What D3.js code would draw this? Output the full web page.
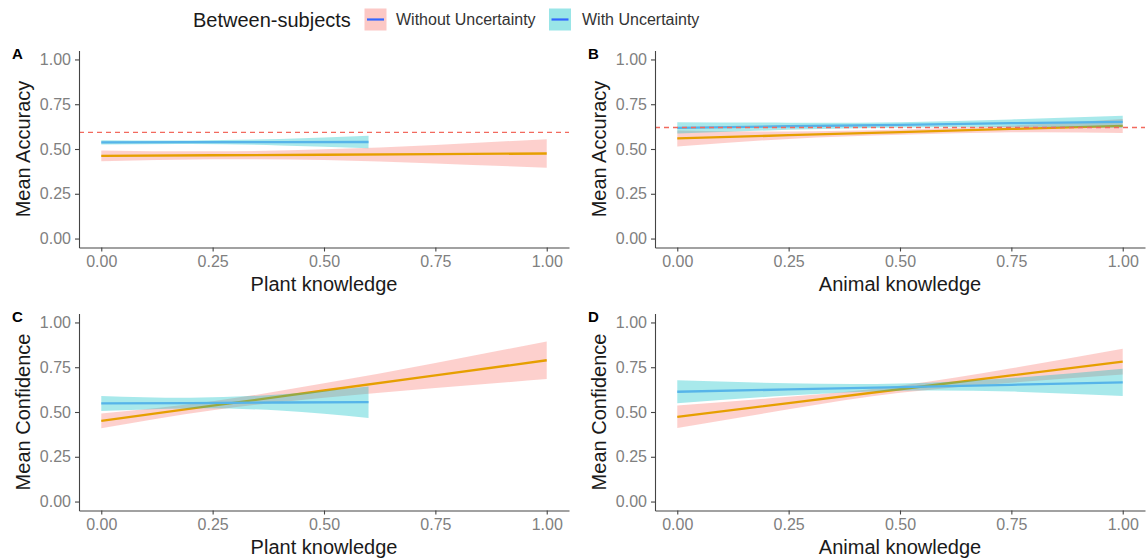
<!DOCTYPE html>
<html>
<head>
<meta charset="utf-8">
<script src="https://cdn.jsdelivr.net/npm/d3@7"></script>
<style>
body{margin:0;background:#fff}
text{font-family:"Liberation Sans",Arial,sans-serif}
</style>
</head>
<body>
<svg id="chart" width="1148" height="558"></svg>
<script>
// legend / groups
var groupNames = ["Without Uncertainty", "With Uncertainty"];
var lineCols = ["#E69F00", "#56B4E9"];
var fillCols = ["#F8766D", "#00BFC4"];
var tickVals = [0, 0.25, 0.5, 0.75, 1];

// x positions of the fitted values
var xPlantWithout = [0, 0.25, 0.5, 0.75, 1];
var xPlantWith = [0, 0.2, 0.4, 0.6];
var xAnimal = [0, 0.25, 0.5, 0.75, 1];

// A: accuracy ~ plant knowledge
var accPlantWithoutMean = [0.462, 0.465, 0.468, 0.471, 0.475];
var accPlantWithoutLo   = [0.432, 0.443, 0.438, 0.419, 0.395];
var accPlantWithoutHi   = [0.492, 0.487, 0.498, 0.523, 0.555];
var accPlantWithMean = [0.537, 0.538, 0.538, 0.539];
var accPlantWithLo   = [0.525, 0.528, 0.520, 0.504];
var accPlantWithHi   = [0.549, 0.548, 0.556, 0.574];

// B: accuracy ~ animal knowledge
var accAnimalWithoutMean = [0.559, 0.577, 0.594, 0.612, 0.629];
var accAnimalWithoutLo   = [0.514, 0.556, 0.579, 0.593, 0.590];
var accAnimalWithoutHi   = [0.604, 0.598, 0.609, 0.631, 0.668];
var accAnimalWithMean = [0.618, 0.627, 0.635, 0.644, 0.652];
var accAnimalWithLo   = [0.586, 0.607, 0.620, 0.623, 0.618];
var accAnimalWithHi   = [0.650, 0.647, 0.650, 0.665, 0.686];

// C: confidence ~ plant knowledge
var confPlantWithoutMean = [0.450, 0.535, 0.620, 0.704, 0.789];
var confPlantWithoutLo   = [0.409, 0.510, 0.580, 0.634, 0.684];
var confPlantWithoutHi   = [0.491, 0.560, 0.660, 0.774, 0.894];
var confPlantWithMean = [0.548, 0.550, 0.553, 0.555];
var confPlantWithLo   = [0.506, 0.520, 0.508, 0.467];
var confPlantWithHi   = [0.590, 0.580, 0.598, 0.643];

// D: confidence ~ animal knowledge
var confAnimalWithoutMean = [0.473, 0.550, 0.627, 0.704, 0.781];
var confAnimalWithoutLo   = [0.410, 0.515, 0.607, 0.664, 0.709];
var confAnimalWithoutHi   = [0.536, 0.585, 0.647, 0.744, 0.853];
var confAnimalWithMean = [0.613, 0.626, 0.639, 0.652, 0.665];
var confAnimalWithLo   = [0.549, 0.592, 0.619, 0.614, 0.590];
var confAnimalWithHi   = [0.677, 0.660, 0.659, 0.690, 0.742];

// reference (dashed) lines for accuracy panels
var chanceAcc = [0.593, 0.62];

var panels = [
  {id:"A", col:0, row:0, ylab:"Mean Accuracy", xlab:"Plant knowledge", ref:chanceAcc[0], groups:[
    {x:xPlantWithout, m:accPlantWithoutMean, lo:accPlantWithoutLo, hi:accPlantWithoutHi},
    {x:xPlantWith, m:accPlantWithMean, lo:accPlantWithLo, hi:accPlantWithHi}]},
  {id:"B", col:1, row:0, ylab:"Mean Accuracy", xlab:"Animal knowledge", ref:chanceAcc[1], groups:[
    {x:xAnimal, m:accAnimalWithoutMean, lo:accAnimalWithoutLo, hi:accAnimalWithoutHi},
    {x:xAnimal, m:accAnimalWithMean, lo:accAnimalWithLo, hi:accAnimalWithHi}]},
  {id:"C", col:0, row:1, ylab:"Mean Confidence", xlab:"Plant knowledge", ref:null, groups:[
    {x:xPlantWithout, m:confPlantWithoutMean, lo:confPlantWithoutLo, hi:confPlantWithoutHi},
    {x:xPlantWith, m:confPlantWithMean, lo:confPlantWithLo, hi:confPlantWithHi}]},
  {id:"D", col:1, row:1, ylab:"Mean Confidence", xlab:"Animal knowledge", ref:null, groups:[
    {x:xAnimal, m:confAnimalWithoutMean, lo:confAnimalWithoutLo, hi:confAnimalWithoutHi},
    {x:xAnimal, m:confAnimalWithMean, lo:confAnimalWithLo, hi:confAnimalWithHi}]}
];

var svg = d3.select("#chart");
svg.append("rect").attr("width", 1148).attr("height", 558).attr("fill", "#fff");

// layout
var colLeft = [79, 655], colW = 490;
var rowTop = [50.5, 313.5], rowH = 197;
var fmt = d3.format(".2f");
var axisCol = "#444", tickTextCol = "#808080", titleCol = "#1a1a1a";

panels.forEach(function(p){
  var L = colLeft[p.col], T = rowTop[p.row];
  var x = d3.scaleLinear().domain([-0.05, 1.05]).range([L, L+colW]);
  var y = d3.scaleLinear().domain([-0.05, 1.05]).range([T+rowH, T]);
  var g = svg.append("g");

  // ribbons + lines, group order like ggplot
  p.groups.forEach(function(gr, gi){
    var idx = d3.range(gr.x.length);
    var area = d3.area()
      .x(function(i){return x(gr.x[i])})
      .y0(function(i){return y(gr.lo[i])})
      .y1(function(i){return y(gr.hi[i])})
      .curve(d3.curveNatural);
    g.append("path").attr("d", area(idx))
      .attr("fill", fillCols[gi]).attr("fill-opacity", 0.34);
    var line = d3.line()
      .x(function(i){return x(gr.x[i])})
      .y(function(i){return y(gr.m[i])});
    g.append("path").attr("d", line(idx))
      .attr("fill", "none").attr("stroke", lineCols[gi]).attr("stroke-width", 2.3);
  });

  if(p.ref !== null){
    g.append("line")
      .attr("x1", x(-0.05)).attr("x2", x(1.05))
      .attr("y1", y(p.ref)).attr("y2", y(p.ref))
      .attr("stroke", "#F26A5E").attr("stroke-width", 1.4)
      .attr("stroke-dasharray", "5,4");
  }

  // axes
  var xa = g.append("g").attr("transform", "translate(0," + (T+rowH) + ")")
    .call(d3.axisBottom(x).tickValues(tickVals).tickFormat(fmt).tickSize(4).tickSizeOuter(0).tickPadding(4));
  var ya = g.append("g").attr("transform", "translate(" + L + ",0)")
    .call(d3.axisLeft(y).tickValues(tickVals).tickFormat(fmt).tickSize(4).tickSizeOuter(0).tickPadding(4));
  [xa, ya].forEach(function(a){
    a.select(".domain").attr("stroke", axisCol).attr("stroke-width", 1.1);
    a.selectAll(".tick line").attr("stroke", axisCol).attr("stroke-width", 1.1);
    a.selectAll(".tick text").attr("fill", tickTextCol).style("font-size", "16px")
      .style("font-family", "'Liberation Sans',Arial,sans-serif");
  });

  // titles
  g.append("text").attr("x", L + colW/2).attr("y", T + rowH + 43)
    .attr("text-anchor", "middle").attr("fill", titleCol).style("font-size", "20px").text(p.xlab);
  g.append("text")
    .attr("transform", "translate(" + (L - 56) + "," + (T + rowH/2) + ") rotate(-90)")
    .attr("text-anchor", "middle").attr("dy", "0.35em")
    .attr("fill", titleCol).style("font-size", "20px").text(p.ylab);
  g.append("text").attr("x", L - 67).attr("y", T + 8.5)
    .attr("fill", "#000").style("font-size", "15px").style("font-weight", "bold").text(p.id);
});

// legend
var leg = svg.append("g");
leg.append("text").attr("x", 193).attr("y", 26.5).attr("fill", titleCol)
  .style("font-size", "20px").text("Between-subjects");
var keyX = [364.5, 549], labX = [396, 582];
groupNames.forEach(function(name, i){
  leg.append("rect").attr("x", keyX[i]).attr("y", 8.5).attr("width", 22).attr("height", 22)
    .attr("fill", fillCols[i]).attr("fill-opacity", 0.4);
  leg.append("line").attr("x1", keyX[i] + 2.5).attr("x2", keyX[i] + 19.5)
    .attr("y1", 19.5).attr("y2", 19.5).attr("stroke", "#3366FF").attr("stroke-width", 2.2);
  leg.append("text").attr("x", labX[i]).attr("y", 25).attr("fill", "#333")
    .style("font-size", "16px").text(name);
});
</script>
</body>
</html>
